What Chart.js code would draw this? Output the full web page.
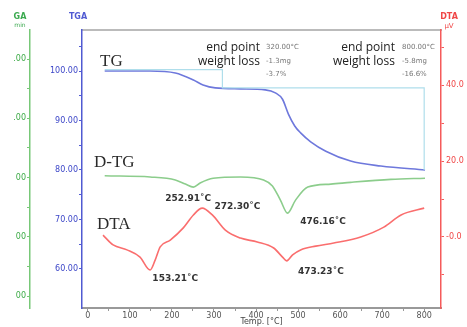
<!DOCTYPE html>
<html>
<head>
<meta charset="utf-8">
<script src="https://cdn.jsdelivr.net/npm/chart.js@4.4.1/dist/chart.umd.min.js"></script>
<style>
  body { margin: 0; background: #fff; }
  canvas { display: block; }
</style>
</head>
<body>
<canvas id="myChart" width="467" height="327"></canvas>
<script>
// TG curve (weight %)
const tgTemps = [40, 148, 208, 251, 274, 303, 363, 422, 446, 463, 477, 492, 506, 530, 566, 625, 697, 802];
const tgValues = [100.0, 100.0, 99.6, 98.2, 97.2, 96.6, 96.4, 96.2, 95.6, 94.3, 91.3, 88.9, 87.5, 85.7, 83.8, 81.8, 80.8, 80.0];

// D-TG curve
const dtgTemps = [40, 148, 208, 232, 251, 267, 298, 363, 418, 439, 458, 475, 494, 523, 578, 625, 721, 802];
const dtgValues = [0.03, 0.01, -0.04, -0.11, -0.16, -0.09, -0.01, 0.01, -0.04, -0.14, -0.38, -0.60, -0.38, -0.16, -0.11, -0.08, -0.03, -0.01];

// DTA curve (uV)
const dtaTemps = [36, 60, 93, 124, 148, 160, 172, 196, 227, 251, 272, 296, 327, 363, 403, 442, 463, 473, 487, 506, 542, 585, 649, 704, 745, 800];
const dtaValues = [0.5, -2.1, -3.4, -5.3, -8.7, -6.1, -2.6, -0.8, 2.4, 5.8, 7.6, 5.8, 1.8, -0.3, -1.3, -2.9, -5.3, -6.3, -4.7, -3.4, -2.4, -1.6, 0.0, 2.6, 5.8, 7.6];

// end point / weight loss step line
const stepTemps = [40, 320, 320, 800, 800];
const stepValues = [100.3, 100.3, 96.6, 96.6, 80.0];

const endPoints = ['320.00\u00b0C', '800.00\u00b0C'];
const weightLossMg = ['-1.3mg', '-5.8mg'];
const weightLossPct = ['-3.7%', '-16.6%'];

const dtgPeaks = [252.91, 476.16];
const dtaPeaks = [153.21, 272.30, 473.23];

const tgaTickValues = [100, 90, 80, 70, 60];
const dtgTickValues = [2, 1, 0, -1, -2];
const dtgTickLabels = ['.00', '.00', '00', '00', '00'];
const dtaTickValues = [40, 20, 0];
const dtaTickLabels = ['40.0', '20.0', '-0.0'];
const xTickValues = [0, 100, 200, 300, 400, 500, 600, 700, 800];

const toPoints = (xs, ys) => xs.map((x, i) => ({ x: x, y: ys[i] }));

const valueAt = (xs, ys, t) => {
  for (let i = 0; i < xs.length - 1; i++) {
    if (t >= xs[i] && t <= xs[i + 1]) {
      const f = (t - xs[i]) / (xs[i + 1] - xs[i]);
      return ys[i] + f * (ys[i + 1] - ys[i]);
    }
  }
  return ys[ys.length - 1];
};

const blue = 'rgb(80, 90, 210)';
const green = 'rgb(120, 200, 120)';
const red = 'rgb(245, 90, 90)';

const textPlugin = {
  id: 'texts',
  afterDraw(chart) {
    const ctx = chart.ctx;
    const xs = chart.scales.x;
    const a = chart.chartArea;
    ctx.save();

    // axis titles on top
    ctx.font = 'bold 8px "DejaVu Sans"';
    ctx.textAlign = 'center';
    ctx.fillStyle = 'rgb(60, 170, 80)';
    ctx.fillText('GA', 20, 19);
    ctx.font = '6px "DejaVu Sans"';
    ctx.fillText('min', 20, 27);
    ctx.font = 'bold 8px "DejaVu Sans"';
    ctx.fillStyle = blue;
    ctx.fillText('TGA', 78, 19);
    ctx.fillStyle = 'rgb(240, 70, 70)';
    ctx.fillText('DTA', 449, 19);
    ctx.font = '7px "DejaVu Sans"';
    ctx.fillText('\u03bcV', 449, 28);

    // series names
    ctx.fillStyle = '#2a2a2a';
    ctx.font = '17px "Liberation Serif"';
    ctx.textAlign = 'left';
    ctx.fillText('TG', a.left + 18, 66);
    ctx.fillText('D-TG', a.left + 12, 167);
    ctx.fillText('DTA', a.left + 15, 229);

    // end point blocks
    ctx.font = '12px "Open Sans"';
    ctx.fillStyle = '#222';
    ctx.textAlign = 'right';
    ctx.fillText('end point', 260, 51);
    ctx.fillText('weight loss', 260, 65);
    ctx.fillText('end point', 395, 51);
    ctx.fillText('weight loss', 395, 65);
    ctx.font = '7px "DejaVu Sans"';
    ctx.fillStyle = '#777';
    ctx.textAlign = 'left';
    [266, 402].forEach((x, i) => {
      ctx.fillText(endPoints[i], x, 49);
      ctx.fillText(weightLossMg[i], x, 63);
      ctx.fillText(weightLossPct[i], x, 76);
    });

    // peak labels
    ctx.font = 'bold 9px "DejaVu Sans"';
    ctx.fillStyle = '#333';
    ctx.textAlign = 'center';
    ctx.textBaseline = 'middle';
    const yG = chart.scales.yDtg;
    const yR = chart.scales.yDta;
    const dtgOff = [[-6, 12], [35, 9]];
    dtgPeaks.forEach((t, i) => {
      const px = xs.getPixelForValue(t);
      const py = yG.getPixelForValue(valueAt(dtgTemps, dtgValues, t));
      ctx.fillText(t.toFixed(2) + '\u02daC', px + dtgOff[i][0], py + dtgOff[i][1]);
    });
    const dtaOff = [[23, 13], [35, -2], [34, 11]];
    dtaPeaks.forEach((t, i) => {
      const px = xs.getPixelForValue(t);
      const py = yR.getPixelForValue(valueAt(dtaTemps, dtaValues, t));
      ctx.fillText(t.toFixed(2) + '\u02daC', px + dtaOff[i][0], py + dtaOff[i][1]);
    });
    ctx.restore();
  }
};

const lineStyle = (color, w) => ({
  borderColor: color,
  backgroundColor: color,
  borderWidth: w,
  pointRadius: 0,
  tension: 0.4,
  cubicInterpolationMode: 'monotone',
  fill: false
});

const config = {
  type: 'line',
  data: {
    datasets: [
      Object.assign({ label: 'step', data: toPoints(stepTemps, stepValues), yAxisID: 'yTga' }, lineStyle('rgb(175, 222, 235)', 1.2), { tension: 0, cubicInterpolationMode: 'default' }),
      Object.assign({ label: 'TG', data: toPoints(tgTemps, tgValues), yAxisID: 'yTga' }, lineStyle('rgb(110, 120, 220)', 1.6)),
      Object.assign({ label: 'D-TG', data: toPoints(dtgTemps, dtgValues), yAxisID: 'yDtg' }, lineStyle('rgb(140, 205, 140)', 1.6)),
      Object.assign({ label: 'DTA', data: toPoints(dtaTemps, dtaValues), yAxisID: 'yDta' }, lineStyle('rgb(250, 110, 110)', 1.6))
    ]
  },
  options: {
    responsive: false,
    animation: false,
    layout: { padding: { top: 30, bottom: 0, left: 0, right: 0 } },
    plugins: { legend: { display: false }, tooltip: { enabled: false } },
    scales: {
      x: {
        type: 'linear',
        position: 'bottom',
        min: -14,
        max: 840,
        afterBuildTicks: s => { s.ticks = xTickValues.flatMap(v => v < 800 ? [{ value: v }, { value: v + 50 }] : [{ value: v }]); },
        ticks: {
          autoSkip: false,
          maxRotation: 0,
          padding: 0,
          color: '#555',
          font: { size: 8, family: 'DejaVu Sans' },
          callback: v => v % 100 === 0 ? String(v) : ''
        },
        grid: { drawOnChartArea: false, tickLength: 3, color: '#999' },
        border: { color: '#999', width: 2 },
        title: { display: true, text: 'Temp. [\u00b0C]', padding: 0, color: '#444', font: { size: 8, family: 'DejaVu Sans' } },
        afterFit: s => { s.height = 19; }
      },
      xTop: {
        type: 'linear',
        position: 'top',
        min: -14,
        max: 840,
        ticks: { display: false },
        grid: { drawOnChartArea: false, drawTicks: false },
        border: { color: '#bbb', width: 2 },
        afterFit: s => { s.height = 0; }
      },
      yDtg: {
        type: 'linear',
        position: 'left',
        weight: 2,
        min: -2.2,
        max: 2.49,
        afterBuildTicks: s => { s.ticks = dtgTickValues.flatMap(v => v > -2 ? [{ value: v }, { value: v - 0.5 }] : [{ value: v }]); },
        ticks: {
          autoSkip: false,
          padding: 1,
          color: 'rgb(60, 170, 70)',
          font: { size: 8, family: 'DejaVu Sans' },
          callback: v => { const i = dtgTickValues.indexOf(v); return i >= 0 ? dtgTickLabels[i] : ''; }
        },
        grid: { drawOnChartArea: false, tickLength: 3, color: green },
        border: { color: green, width: 1.5 },
        afterFit: s => { s.width = 30; }
      },
      yTga: {
        type: 'linear',
        position: 'left',
        weight: 1,
        min: 52.1,
        max: 108.3,
        afterBuildTicks: s => { s.ticks = tgaTickValues.flatMap(v => [{ value: v }, { value: v + 5 }]); },
        ticks: {
          autoSkip: false,
          padding: 1,
          color: 'rgb(60, 70, 200)',
          font: { size: 8, family: 'DejaVu Sans' },
          callback: v => tgaTickValues.includes(v) ? v.toFixed(2) : ''
        },
        grid: { drawOnChartArea: false, tickLength: 3, color: blue },
        border: { color: blue, width: 1.5 },
        afterFit: s => { s.width = 52; }
      },
      yDta: {
        type: 'linear',
        position: 'right',
        min: -18.7,
        max: 54.5,
        afterBuildTicks: s => { s.ticks = dtaTickValues.flatMap(v => [{ value: v }, { value: v + 10 }]).concat([{ value: -10 }]); },
        ticks: {
          autoSkip: false,
          padding: 2,
          color: 'rgb(240, 70, 70)',
          font: { size: 8, family: 'DejaVu Sans' },
          callback: v => { const i = dtaTickValues.indexOf(v); return i >= 0 ? dtaTickLabels[i] : ''; }
        },
        grid: { drawOnChartArea: false, tickLength: 3, color: red },
        border: { color: red, width: 1.5 },
        afterFit: s => { s.width = 26; }
      }
    }
  },
  plugins: [textPlugin]
};

var myChart = new Chart(document.getElementById('myChart'), config);
</script>
</body>
</html>
